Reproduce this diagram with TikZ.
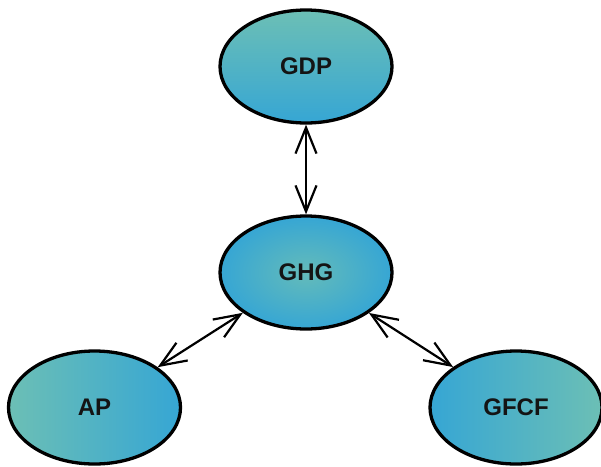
\documentclass[tikz,border=0pt]{standalone}
\usepackage{fontspec}
\setmainfont{Liberation Sans}
\usetikzlibrary{shapes.geometric,arrows.meta}
\definecolor{tealc}{HTML}{6CBFB5}
\definecolor{bluec}{HTML}{36A6D4}
\tikzset{
  ell/.style={ellipse, draw=black, line width=3.3pt, minimum width=172pt, minimum height=113pt, inner sep=0pt,
    font=\fontsize{24}{27}\selectfont\bfseries, text=black!92},
  link/.style={line width=2.2pt, {Straight Barb[length=26pt,width=21pt,line width=2.2pt]}-{Straight Barb[length=26pt,width=21pt,line width=2.2pt]}}
}
\begin{document}
\begin{tikzpicture}[x=1pt,y=1pt]
\useasboundingbox (0,0) rectangle (601,-466);
\node[ell, top color=tealc, bottom color=bluec] (gdp) at (306,-66.5) {GDP};
\node[ell, inner color=tealc!85!bluec, outer color=bluec] (ghg) at (306,-272.5) {GHG};
\node[ell, left color=tealc, right color=bluec] (ap) at (94.5,-407.5) {AP};
\node[ell, left color=bluec, right color=tealc] (gfcf) at (516,-407.5) {GFCF};
\draw[link] (gdp) -- (ghg);
\draw[link] (ghg) -- (ap);
\draw[link] (ghg) -- (gfcf);
\end{tikzpicture}
\end{document}
